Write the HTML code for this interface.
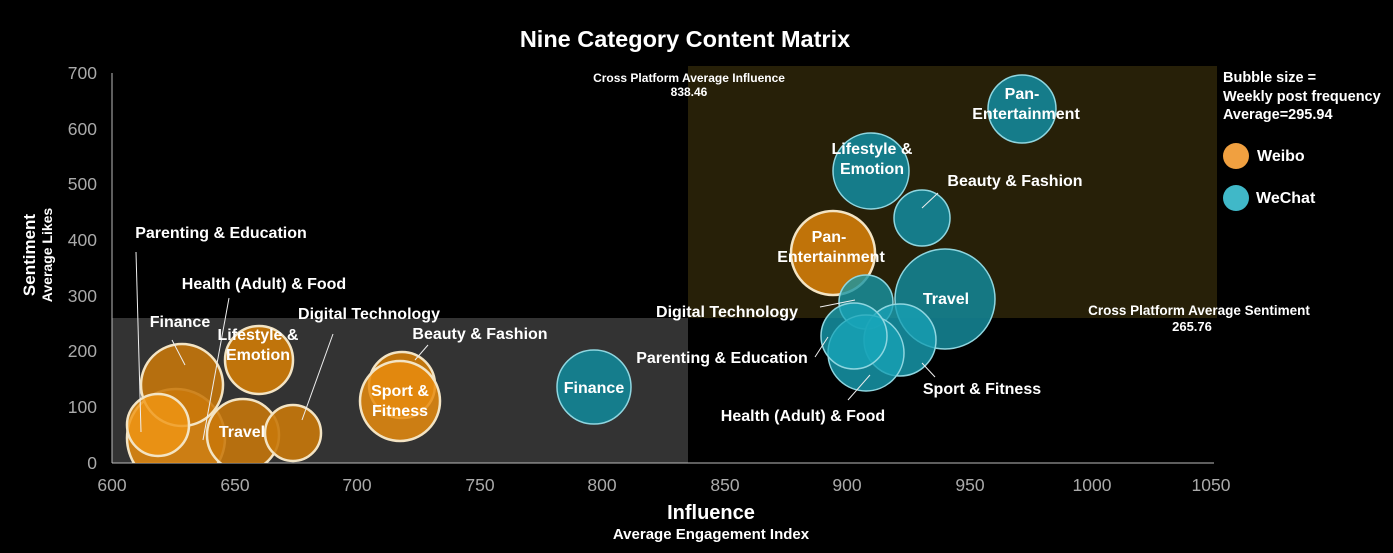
<!DOCTYPE html>
<html><head><meta charset="utf-8"><style>
html,body{margin:0;padding:0;background:#000;}
svg{display:block;font-family:"Liberation Sans",Arial,sans-serif;font-weight:bold;}
</style></head><body>
<svg width="1393" height="553" viewBox="0 0 1393 553" xmlns="http://www.w3.org/2000/svg">
<defs><clipPath id="pc"><rect x="112" y="60" width="1110" height="403"/></clipPath></defs>
<rect width="1393" height="553" fill="#000"/>
<text x="685" y="47" fill="#fff" font-size="23.5" text-anchor="middle">Nine Category Content Matrix</text>
<rect x="688" y="66" width="529" height="252" fill="#272008"/>
<rect x="112" y="318" width="576" height="145" fill="#333333"/>
<line x1="112" y1="73" x2="112" y2="463" stroke="#bbb" stroke-width="1"/>
<line x1="112" y1="463" x2="1214" y2="463" stroke="#bbb" stroke-width="1"/>
<g fill="#aaa" font-weight="normal" font-size="17.5" text-anchor="end">
<text x="97" y="79">700</text><text x="97" y="135">600</text><text x="97" y="190">500</text><text x="97" y="246">400</text><text x="97" y="302">300</text><text x="97" y="357">200</text><text x="97" y="413">100</text><text x="97" y="469">0</text>
</g>
<g fill="#aaa" font-weight="normal" font-size="17.5" text-anchor="middle">
<text x="112" y="491">600</text><text x="235" y="491">650</text><text x="357" y="491">700</text><text x="480" y="491">750</text><text x="602" y="491">800</text><text x="725" y="491">850</text><text x="847" y="491">900</text><text x="970" y="491">950</text><text x="1092" y="491">1000</text><text x="1211" y="491">1050</text>
</g>
<text x="711" y="519" fill="#fff" font-size="20" text-anchor="middle">Influence</text>
<text x="711" y="539" fill="#fff" font-size="15" text-anchor="middle">Average Engagement Index</text>
<text transform="translate(35,255) rotate(-90)" fill="#fff" font-size="17" text-anchor="middle">Sentiment</text>
<text transform="translate(52,255) rotate(-90)" fill="#fff" font-size="14" text-anchor="middle">Average Likes</text>
<text x="689" y="82" fill="#fff" font-size="12" text-anchor="middle">Cross Platform Average Influence</text>
<text x="689" y="96" fill="#fff" font-size="12" text-anchor="middle">838.46</text>
<text x="1199" y="315" fill="#fff" font-size="13.5" text-anchor="middle">Cross Platform Average Sentiment</text>
<text x="1192" y="331" fill="#fff" font-size="13" text-anchor="middle">265.76</text>
<g clip-path="url(#pc)">
<g stroke="#f3e4c4" stroke-width="2.5">
<circle cx="176" cy="438" r="49" fill="rgba(232,140,15,0.85)"/>
<circle cx="182" cy="385" r="41" fill="rgba(200,120,10,0.88)"/>
<circle cx="158" cy="425" r="31" fill="rgba(240,150,20,0.8)"/>
<circle cx="259" cy="360" r="34" fill="rgba(200,120,10,0.95)"/>
<circle cx="243" cy="435" r="36" fill="rgba(200,120,10,0.88)"/>
<circle cx="293" cy="433" r="28" fill="rgba(200,120,10,0.9)"/>
<circle cx="402" cy="385" r="33" fill="rgba(200,120,10,0.95)"/>
<circle cx="400" cy="401" r="40" fill="rgba(232,140,15,0.85)"/>
<circle cx="833" cy="253" r="42" fill="rgba(200,120,10,0.95)"/>
</g>
<g stroke="#8fd6e0" stroke-width="1.5">
<circle cx="594" cy="387" r="37" fill="rgba(20,130,145,0.95)"/>
<circle cx="1022" cy="109" r="34" fill="rgba(20,130,145,0.95)"/>
<circle cx="871" cy="171" r="38" fill="rgba(20,130,145,0.95)"/>
<circle cx="922" cy="218" r="28" fill="rgba(20,130,145,0.95)"/>
<circle cx="866" cy="302" r="27" fill="rgba(24,150,165,0.8)"/>
<circle cx="945" cy="299" r="50" fill="rgba(20,130,145,0.9)"/>
<circle cx="900" cy="340" r="36" fill="rgba(24,160,180,0.8)"/>
<circle cx="866" cy="353" r="38" fill="rgba(24,160,180,0.8)"/>
<circle cx="854" cy="336" r="33" fill="rgba(24,165,185,0.75)"/>
</g>
</g>
<g stroke="#eee" stroke-width="1">
<line x1="136" y1="252" x2="141" y2="432"/>
<line x1="229" y1="298" x2="203" y2="440"/>
<line x1="333" y1="334" x2="302" y2="420"/>
<line x1="172" y1="340" x2="185" y2="365"/>
<line x1="428" y1="345" x2="415" y2="360"/>
<line x1="938" y1="193" x2="922" y2="208"/>
<line x1="820" y1="307" x2="855" y2="300"/>
<line x1="815" y1="357" x2="828" y2="337"/>
<line x1="848" y1="400" x2="870" y2="375"/>
<line x1="935" y1="377" x2="922" y2="363"/>
</g>
<g fill="#fff" font-size="16" text-anchor="middle">
<text x="221" y="238">Parenting &amp; Education</text>
<text x="264" y="289">Health (Adult) &amp; Food</text>
<text x="180" y="327">Finance</text>
<text x="258" y="340">Lifestyle &amp;</text>
<text x="258" y="360">Emotion</text>
<text x="369" y="319">Digital Technology</text>
<text x="480" y="339">Beauty &amp; Fashion</text>
<text x="242" y="437">Travel</text>
<text x="400" y="396">Sport &amp;</text>
<text x="400" y="416">Fitness</text>
<text x="594" y="393">Finance</text>
<text x="1022" y="99">Pan-</text>
<text x="1026" y="119">Entertainment</text>
<text x="872" y="154">Lifestyle &amp;</text>
<text x="872" y="174">Emotion</text>
<text x="1015" y="186">Beauty &amp; Fashion</text>
<text x="829" y="242">Pan-</text>
<text x="831" y="262">Entertainment</text>
<text x="946" y="304">Travel</text>
<text x="727" y="317">Digital Technology</text>
<text x="722" y="363">Parenting &amp; Education</text>
<text x="982" y="394">Sport &amp; Fitness</text>
<text x="803" y="421">Health (Adult) &amp; Food</text>
</g>
<g fill="#fff" font-size="14.5">
<text x="1223" y="82">Bubble size =</text>
<text x="1223" y="101">Weekly post frequency</text>
<text x="1223" y="119">Average=295.94</text>
<text x="1257" y="161" font-size="16">Weibo</text>
<text x="1256" y="203" font-size="16">WeChat</text>
</g>
<circle cx="1236" cy="156" r="13" fill="#f0a040"/>
<circle cx="1236" cy="198" r="13" fill="#40b8c8"/>
</svg>
</body></html>
